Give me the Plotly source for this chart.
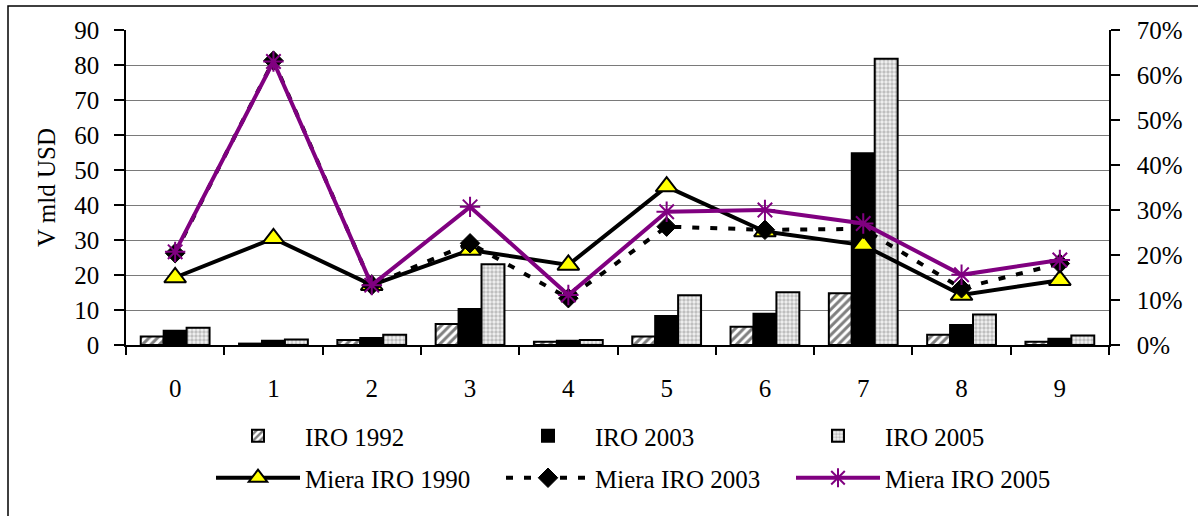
import plotly.graph_objects as go

categories = ["0", "1", "2", "3", "4", "5", "6", "7", "8", "9"]
iro_1992 = [2.4, 0.4, 1.4, 6.0, 0.9, 2.4, 5.2, 14.8, 2.9, 0.9]
iro_2003 = [4.1, 1.2, 2.0, 10.3, 1.2, 8.3, 8.9, 54.8, 5.7, 1.8]
iro_2005 = [4.9, 1.6, 2.9, 23.1, 1.4, 14.2, 15.1, 81.8, 8.7, 2.7]
# shares in percent (right axis)
miera_1990 = [15.0, 23.7, 13.3, 21.1, 17.8, 35.2, 25.2, 22.2, 11.1, 14.4]
miera_2003 = [20.4, 63.2, 13.3, 22.6, 10.4, 26.3, 25.6, 25.8, 12.6, 18.1]
miera_2005 = [20.7, 63.0, 13.3, 30.7, 11.1, 29.6, 30.0, 27.0, 15.6, 18.9]

FONT = "Liberation Serif, Times New Roman, serif"
FS = 25

fig = go.Figure()

fig.add_trace(go.Bar(
    x=categories, y=iro_1992, name="IRO 1992", legend="legend",
    marker=dict(color="white", line=dict(color="black", width=2),
                pattern=dict(shape="/", fgcolor="black", bgcolor="white", size=6, solidity=0.5)),
))
fig.add_trace(go.Bar(
    x=categories, y=iro_2003, name="IRO 2003", legend="legend",
    marker=dict(color="black", line=dict(color="black", width=2)),
))
fig.add_trace(go.Bar(
    x=categories, y=iro_2005, name="IRO 2005", legend="legend",
    marker=dict(color="#e0e0e0", line=dict(color="black", width=2),
                pattern=dict(shape=".", fgcolor="#8c8c8c", bgcolor="#f2f2f2", size=4, solidity=0.55)),
))

fig.add_trace(go.Scatter(
    x=categories, y=[v / 100 for v in miera_1990], name="Miera IRO 1990", yaxis="y2", legend="legend2",
    mode="lines+markers",
    line=dict(color="black", width=4),
    marker=dict(symbol="triangle-up", size=19, color="#ffff00", line=dict(color="black", width=2)),
))
fig.add_trace(go.Scatter(
    x=categories, y=[v / 100 for v in miera_2003], name="Miera IRO 2003", yaxis="y2", legend="legend2",
    mode="lines+markers",
    line=dict(color="black", width=4, dash="7px,11px"),
    marker=dict(symbol="diamond", size=15, color="black", line=dict(color="black", width=1)),
))
fig.add_trace(go.Scatter(
    x=categories, y=[v / 100 for v in miera_2005], name="Miera IRO 2005", yaxis="y2", legend="legend2",
    mode="lines+markers",
    line=dict(color="#800080", width=4),
    marker=dict(symbol="asterisk-open", size=17, color="#800080", line=dict(color="#800080", width=2)),
))

L, R, T, B = 126, 89, 30, 171
W, H = 1198, 516
pw, ph = W - L - R, H - T - B

fig.update_layout(
    width=W, height=H,
    margin=dict(l=L, r=R, t=T, b=B, pad=0),
    paper_bgcolor="white", plot_bgcolor="white",
    font=dict(family=FONT, size=FS, color="black"),
    barmode="group", bargap=0.3, bargroupgap=0,
    xaxis=dict(
        type="category", tickson="boundaries", ticks="outside", ticklen=8, tickwidth=1.5,
        tickcolor="black", showline=True, linecolor="black", linewidth=1.5,
        showgrid=False, zeroline=False, tickfont=dict(size=FS), ticklabelstandoff=20,
        range=[-0.5, 9.5],
    ),
    xaxis3=dict(
        overlaying="x", anchor="y", range=[-0.5, 9.5], tickmode="array",
        tickvals=[i - 0.5 for i in range(len(categories) + 1)],
        ticks="inside", ticklen=8, tickwidth=1.5, tickcolor="black",
        showticklabels=False, showgrid=False, zeroline=False, showline=False,
    ),
    yaxis=dict(
        range=[0, 90], dtick=10, ticks="outside", ticklen=10, tickwidth=1.5, tickcolor="black",
        showline=True, linecolor="black", linewidth=1.5,
        showgrid=True, gridcolor="#7a7a7a", gridwidth=1.3, zeroline=False,
        title=dict(text="V mld USD", standoff=12, font=dict(size=FS)),
        ticklabelstandoff=10,
    ),
    yaxis2=dict(
        overlaying="y", side="right", range=[0, 0.7], dtick=0.1, tickformat=".0%",
        ticks="outside", ticklen=9, tickwidth=1.5, tickcolor="black",
        showline=True, linecolor="black", linewidth=1.5, showgrid=False, zeroline=False,
        ticklabelstandoff=12,
    ),
    legend=dict(
        orientation="h", xref="container", yref="container",
        x=211 / W, y=1 - 436 / H, xanchor="left", yanchor="middle",
        itemwidth=84, entrywidth=191, bgcolor="rgba(0,0,0,0)",
        font=dict(family=FONT, size=FS), traceorder="normal",
    ),
    legend2=dict(
        orientation="h", xref="container", yref="container",
        x=211 / W, y=1 - 478 / H, xanchor="left", yanchor="middle",
        itemwidth=84, entrywidth=191, bgcolor="rgba(0,0,0,0)",
        font=dict(family=FONT, size=FS), traceorder="normal",
    ),
    shapes=[dict(
        type="rect", xref="paper", yref="paper", layer="below",
        x0=(8 - L) / pw, x1=(W + 10 - L) / pw,
        y0=-(H + 10 - (T + ph)) / ph, y1=1 + (T - 6) / ph,
        line=dict(color="black", width=1.5), fillcolor="rgba(0,0,0,0)",
    )],
)

fig.write_html("out.html")
